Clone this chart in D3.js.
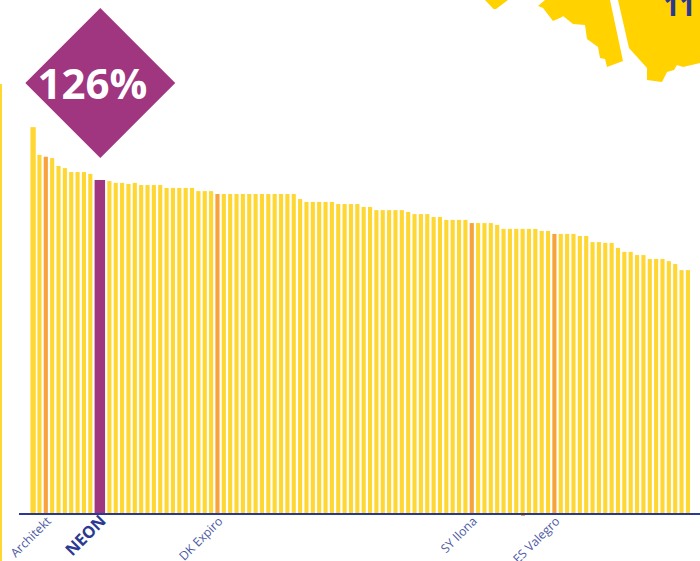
<!DOCTYPE html>
<html>
<head>
<meta charset="utf-8">
<script src="https://cdn.jsdelivr.net/npm/d3@7"></script>
<style>
  html, body { margin: 0; padding: 0; background: #fff; overflow: hidden; }
  svg { display: block; font-family: "Open Sans", sans-serif; }
</style>
</head>
<body>
<svg id="chart" width="700" height="561"></svg>
<script>
// yield per variety, % of the control, sorted
const values = [
  146, 135.5, 134.8, 134.3, 131.3, 130.5, 129, 129, 129, 128.3,
  126, null, // NEON takes two slots
  125.6, 124.9, 124.9, 124.5, 124.9, 124.1, 124.1, 124.1, 124.1,
  123, 123, 123, 123, 123, 121.8, 121.8, 121.8,
  120.7, 120.7, 120.7, 120.7, 120.7, 120.7, 120.7, 120.7, 120.7, 120.7, 120.7, 120.7, 120.7,
  118.8, 117.7, 117.7, 117.7, 117.7, 117.7,
  116.9, 116.9, 116.9, 116.9, 115.8, 115.8,
  114.6, 114.6, 114.6, 114.6, 114.6, 113.9,
  113.1, 113.1, 113.1, 112, 112,
  110.9, 110.9, 110.9, 110.9,
  109.7, 109.7, 109.7, 109.7, 109, 107.5, 107.5, 107.5, 107.5, 107.5, 107.5,
  106.7, 106.7, 105.6, 105.6, 105.6, 105.6, 104.8, 104.8,
  102.5, 102.5, 102.2, 102.2, 100.3, 98.8, 98.8, 97.6, 97.6,
  96.1, 96.1, 96.1, 95.3, 94.2, 91.9, 91.9
];
const labelled = [
  { index: 2, name: "Architekt" },
  { index: 10, name: "NEON", main: true },
  { index: 29, name: "DK Expiro" },
  { index: 69, name: "SY Ilona" },
  { index: 82, name: "ES Valegro" }
];
const highlightValue = "126%";

// map fragments in the top right corner of the page
const mapPieces = [
  [[485, 0], [493.5, 9], [496, 9], [508, 0]],
  [[545, 0], [538, 6], [543, 8], [553, 21], [562, 17], [563, 16], [573, 24], [585, 25], [587, 39], [598, 47], [600, 58], [605, 59], [607, 67], [623, 61], [610, 0]],
  [[618, 0], [629, 48], [647, 68], [647, 80], [662, 82], [667, 72], [674, 70], [677, 65], [683, 67], [700, 63], [700, 0]]
];

const colors = { bar: "#ffd733", marked: "#f7a23c", main: "#a03580", axis: "#2b3990", label: "#4d5aa3", map: "#ffd200" };

const svg = d3.select("#chart");

const x = d3.scaleBand()
  .domain(d3.range(values.length))
  .range([29.9, 691.1])
  .paddingInner(0.35)
  .paddingOuter(0.175);
const y = d3.scaleLinear().domain([0, 126]).range([513, 180]);

const markedIdx = new Set(labelled.map((d) => d.index));
const mainIdx = labelled.find((d) => d.main).index;

svg.append("g")
  .attr("fill", colors.map)
  .selectAll("path")
  .data(mapPieces)
  .join("path")
  .attr("d", (d) => d3.line()(d) + "Z");

svg.append("text")
  .attr("x", 679.5)
  .attr("y", 15.7)
  .attr("text-anchor", "middle")
  .attr("font-size", 28)
  .attr("font-weight", 700)
  .attr("fill", colors.axis)
  .text("11");

svg.append("rect")
  .attr("x", 0).attr("y", 84)
  .attr("width", 2).attr("height", 477)
  .attr("fill", colors.bar);

svg.append("g")
  .selectAll("rect")
  .data(values.map((v, i) => ({ v, i })).filter((d) => d.v !== null))
  .join("rect")
  .attr("x", (d) => x(d.i) - (d.i === 0 ? 0.6 : 0))
  .attr("y", (d) => y(d.v))
  .attr("width", (d) => {
    if (d.i === mainIdx) return x(d.i + 1) + x.bandwidth() - x(d.i);
    return d.i === 0 ? x.bandwidth() + 1.2 : x.bandwidth();
  })
  .attr("height", (d) => y(0) - y(d.v))
  .attr("fill", (d) => d.i === mainIdx ? colors.main : markedIdx.has(d.i) ? colors.marked : colors.bar);

svg.append("line")
  .attr("x1", 19).attr("x2", 700)
  .attr("y1", 514).attr("y2", 514)
  .attr("stroke", colors.axis)
  .attr("stroke-width", 2);

// small orange remnant under the axis
svg.append("line")
  .attr("x1", 521).attr("x2", 525)
  .attr("y1", 515.5).attr("y2", 515.5)
  .attr("stroke", colors.marked)
  .attr("stroke-width", 1);

svg.append("g")
  .selectAll("text")
  .data(labelled)
  .join("text")
  .attr("transform", (d) => {
    const cx = x(d.index) + (d.main ? x.step() + 6 : 8);
    return `translate(${cx},522) rotate(-45)`;
  })
  .attr("text-anchor", "end")
  .attr("font-size", (d) => d.main ? 16.5 : 12.2)
  .attr("font-weight", (d) => d.main ? 700 : 400)
  .attr("fill", (d) => d.main ? colors.axis : colors.label)
  .text((d) => d.name);

// diamond badge
svg.append("path")
  .attr("transform", "translate(100.3,83) rotate(45)")
  .attr("d", d3.symbol(d3.symbolSquare, 106 * 106)())
  .attr("fill", colors.main);

svg.append("text")
  .attr("x", 92.5)
  .attr("y", 99)
  .attr("text-anchor", "middle")
  .attr("font-size", 42)
  .attr("font-weight", 700)
  .attr("fill", "#fff")
  .text(highlightValue);
</script>
</body>
</html>
